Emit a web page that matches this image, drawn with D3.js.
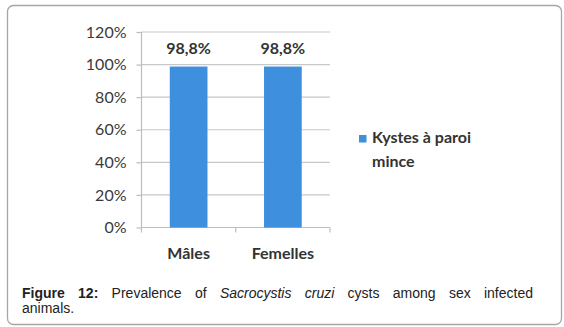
<!DOCTYPE html>
<html>
<head>
<meta charset="utf-8">
<script src="https://cdn.jsdelivr.net/npm/d3@7"></script>
<style>
  body { margin: 0; background: #fff; }
  svg { display: block; }
</style>
</head>
<body>
<svg id="chart"></svg>
<script>
const categories = ["Mâles", "Femelles"];
const values = [0.988, 0.988];
const valueLabels = ["98,8%", "98,8%"];
const yTicks = [0, 0.2, 0.4, 0.6, 0.8, 1.0, 1.2];
const seriesName = ["Kystes à paroi", "mince"];

const width = 564, height = 327;
const plot = { left: 141.5, right: 330, top: 32, bottom: 227.5 };

const svg = d3.select("#chart").attr("width", width).attr("height", height);

// outer frame
svg.append("rect")
    .attr("x", 7.5).attr("y", 5.5)
    .attr("width", 554).attr("height", 319)
    .attr("rx", 6)
    .attr("fill", "#fff")
    .attr("stroke", "#a6a6a6")
    .attr("stroke-width", 1.3);

const x = d3.scaleBand()
    .domain(categories)
    .range([plot.left, plot.right])
    .paddingInner(0.6)
    .paddingOuter(0.3);

const y = d3.scaleLinear()
    .domain([0, 1.2])
    .range([plot.bottom, plot.top]);

// gridlines
svg.append("g")
    .selectAll("line")
    .data(yTicks.slice(1))
    .join("line")
    .attr("x1", plot.left).attr("x2", plot.right)
    .attr("y1", d => y(d)).attr("y2", d => y(d))
    .attr("stroke", "#c8c8c8")
    .attr("stroke-width", 1.2);

// y axis
const yAxis = svg.append("g")
    .attr("transform", `translate(${plot.left},0)`)
    .call(d3.axisLeft(y).tickValues(yTicks).tickFormat(d => Math.round(d * 100) + "%").tickSize(5).tickPadding(10));
yAxis.select(".domain").attr("stroke", "#bdbdbd").attr("stroke-width", 1.2).attr("d", `M0,${plot.top}V${plot.bottom}`);
yAxis.selectAll(".tick line").attr("stroke", "#bdbdbd").attr("stroke-width", 1.2);
yAxis.selectAll(".tick text")
    .attr("fill", "#3a3a3a")
    .style("font-family", "Lato, 'Open Sans', sans-serif")
    .style("font-size", "16px");

// x axis
const xAxis = svg.append("g")
    .attr("transform", `translate(0,${plot.bottom})`)
    .call(d3.axisBottom(x).tickSize(0).tickPadding(20));
xAxis.select(".domain").attr("stroke", "#bdbdbd").attr("stroke-width", 1.2)
    .attr("d", `M${plot.left},0H${plot.right}`);
// category separators
xAxis.selectAll(".sep")
    .data([plot.left, (x(categories[0]) + x.bandwidth() + x(categories[1])) / 2, plot.right])
    .join("line")
    .attr("x1", d => d).attr("x2", d => d)
    .attr("y1", 0).attr("y2", 5)
    .attr("stroke", "#bdbdbd").attr("stroke-width", 1.2);
xAxis.selectAll(".tick text")
    .attr("fill", "#333")
    .style("font-family", "Lato, 'Open Sans', sans-serif")
    .style("font-weight", "bold")
    .style("font-size", "16px");

// bars
svg.append("g")
    .selectAll("rect")
    .data(values)
    .join("rect")
    .attr("x", (d, i) => x(categories[i]))
    .attr("y", d => y(d))
    .attr("width", x.bandwidth())
    .attr("height", d => y(0) - y(d))
    .attr("fill", "#3e8fdd");

// value labels
svg.append("g")
    .selectAll("text")
    .data(values)
    .join("text")
    .attr("x", (d, i) => x(categories[i]) + x.bandwidth() / 2)
    .attr("y", d => y(d) - 13)
    .attr("text-anchor", "middle")
    .attr("fill", "#333")
    .style("font-family", "Lato, 'Open Sans', sans-serif")
    .style("font-weight", "bold")
    .style("font-size", "16px")
    .text((d, i) => valueLabels[i]);

// legend
const legend = svg.append("g");
legend.append("rect")
    .attr("x", 359).attr("y", 135)
    .attr("width", 7.5).attr("height", 7.5)
    .attr("fill", "#3e8fdd");
legend.selectAll("text")
    .data(seriesName)
    .join("text")
    .attr("x", 372)
    .attr("y", (d, i) => 143 + i * 24)
    .attr("fill", "#333")
    .style("font-family", "Lato, 'Open Sans', sans-serif")
    .style("font-weight", "bold")
    .style("font-size", "16px")
    .text(d => d);

// caption, justified on the first line through word spacing
const cap = svg.append("text")
    .attr("x", 22).attr("y", 298)
    .attr("fill", "#222")
    .style("font-family", "'Liberation Sans', Arial, sans-serif")
    .style("font-size", "14px");
cap.append("tspan").style("font-weight", "bold").text("Figure 12:");
cap.append("tspan").text(" Prevalence of ");
cap.append("tspan").style("font-style", "italic").text("Sacrocystis cruzi");
cap.append("tspan").text(" cysts among sex infected");
const natural = cap.node().getComputedTextLength();
cap.style("word-spacing", ((511 - natural) / 9) + "px");

svg.append("text")
    .attr("x", 22).attr("y", 313)
    .attr("fill", "#222")
    .style("font-family", "'Liberation Sans', Arial, sans-serif")
    .style("font-size", "14px")
    .text("animals.");
</script>
</body>
</html>
